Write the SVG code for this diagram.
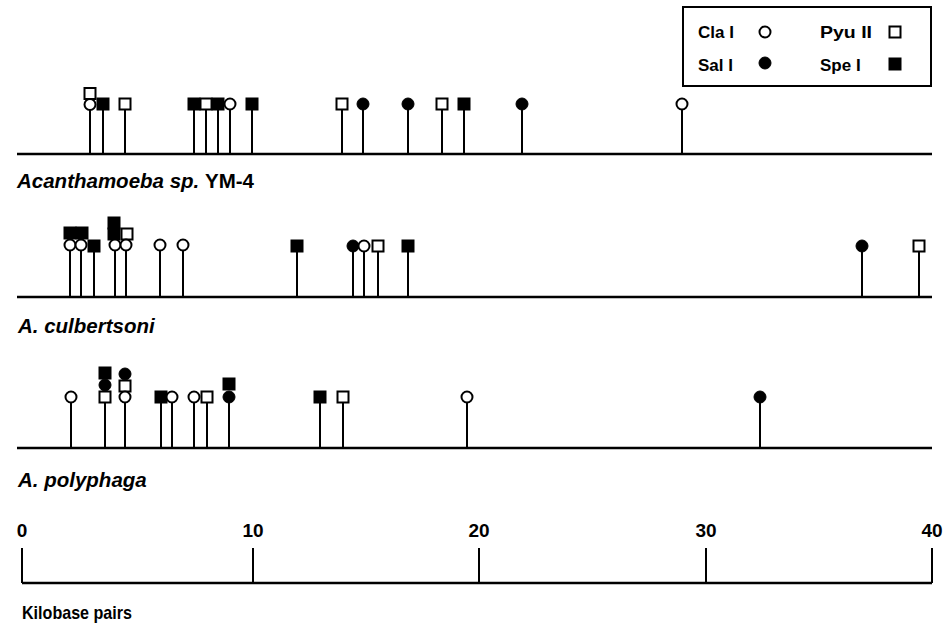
<svg xmlns="http://www.w3.org/2000/svg" width="943" height="632" viewBox="0 0 943 632">
<defs>
<style>
.bl{stroke:#000;stroke-width:2.5;fill:none}
.st{stroke:#000;stroke-width:2;fill:none}
.oc{fill:#fff;stroke:#000;stroke-width:2}
.fc{fill:#000;stroke:#000;stroke-width:1}
.os{fill:#fff;stroke:#000;stroke-width:2}
.fs{fill:#000;stroke:#000;stroke-width:1}
.lab{font-family:"Liberation Sans",Arial,sans-serif;font-weight:bold;font-style:italic;font-size:20.5px;fill:#000}
.txt{font-family:"Liberation Sans",Arial,sans-serif;font-weight:bold;font-size:17px;fill:#000}
.kb{font-family:"Liberation Sans",Arial,sans-serif;font-weight:bold;font-size:19px;fill:#000}
.num{font-family:"Liberation Sans",Arial,sans-serif;font-weight:bold;font-size:19px;fill:#000}
</style>
<circle id="oc" r="5.5" class="oc"/>
<circle id="fc" r="6" class="fc"/>
<rect id="os" x="-5.5" y="-5.5" width="11" height="11" class="os"/>
<rect id="fs" x="-6" y="-6" width="12" height="12" class="fs"/>
</defs>
<rect width="943" height="632" fill="#fff"/>

<g id="legend">
<rect x="683" y="7" width="248" height="79" fill="#fff" stroke="#000" stroke-width="2"/>
<text class="txt" x="698" y="38">Cla I</text>
<use href="#oc" x="765" y="32"/>
<text class="txt" x="820" y="38" textLength="52" lengthAdjust="spacingAndGlyphs">Pyu II</text>
<use href="#os" x="895" y="32"/>
<text class="txt" x="698" y="71">Sal I</text>
<use href="#fc" x="765" y="63"/>
<text class="txt" x="820" y="71">Spe I</text>
<use href="#fs" x="895" y="64"/>
</g>

<g id="connectors">
<!-- track 1 -->
<line class="bl" x1="17" y1="154" x2="932" y2="154"/>
<g class="st">
<line x1="90" y1="104" x2="90" y2="154"/><line x1="103" y1="104" x2="103" y2="154"/><line x1="125" y1="104" x2="125" y2="154"/>
<line x1="194" y1="104" x2="194" y2="154"/><line x1="206" y1="104" x2="206" y2="154"/><line x1="218" y1="104" x2="218" y2="154"/>
<line x1="230" y1="104" x2="230" y2="154"/><line x1="252" y1="104" x2="252" y2="154"/><line x1="342" y1="104" x2="342" y2="154"/>
<line x1="363" y1="104" x2="363" y2="154"/><line x1="408" y1="104" x2="408" y2="154"/><line x1="442" y1="104" x2="442" y2="154"/>
<line x1="464" y1="104" x2="464" y2="154"/><line x1="522" y1="104" x2="522" y2="154"/><line x1="682" y1="104" x2="682" y2="154"/>
</g>
<!-- track 2 -->
<line class="bl" x1="17" y1="297" x2="932" y2="297"/>
<g class="st">
<line x1="70" y1="245" x2="70" y2="297"/><line x1="81" y1="245" x2="81" y2="297"/><line x1="94" y1="245" x2="94" y2="297"/>
<line x1="115" y1="245" x2="115" y2="297"/><line x1="126" y1="245" x2="126" y2="297"/><line x1="160" y1="245" x2="160" y2="297"/>
<line x1="183" y1="245" x2="183" y2="297"/><line x1="297" y1="245" x2="297" y2="297"/><line x1="353" y1="245" x2="353" y2="297"/>
<line x1="364" y1="245" x2="364" y2="297"/><line x1="378" y1="245" x2="378" y2="297"/><line x1="408" y1="245" x2="408" y2="297"/>
<line x1="862" y1="245" x2="862" y2="297"/><line x1="919" y1="245" x2="919" y2="297"/>
</g>
<!-- track 3 -->
<line class="bl" x1="17" y1="448" x2="932" y2="448"/>
<g class="st">
<line x1="71" y1="397" x2="71" y2="448"/><line x1="105" y1="397" x2="105" y2="448"/><line x1="125" y1="397" x2="125" y2="448"/>
<line x1="161" y1="397" x2="161" y2="448"/><line x1="172" y1="397" x2="172" y2="448"/><line x1="194" y1="397" x2="194" y2="448"/>
<line x1="207" y1="397" x2="207" y2="448"/><line x1="229" y1="397" x2="229" y2="448"/><line x1="320" y1="397" x2="320" y2="448"/>
<line x1="343" y1="397" x2="343" y2="448"/><line x1="467" y1="397" x2="467" y2="448"/><line x1="760" y1="397" x2="760" y2="448"/>
</g>
<!-- scale -->
<g class="st">
<line x1="22" y1="583" x2="932" y2="583" stroke-width="2.5"/>
<line x1="22" y1="548" x2="22" y2="583"/><line x1="253" y1="548" x2="253" y2="583"/>
<line x1="479" y1="548" x2="479" y2="583"/><line x1="706" y1="548" x2="706" y2="583"/>
<line x1="932" y1="548" x2="932" y2="583"/>
</g>
</g>

<g id="track1">
<use href="#os" x="90" y="93.5"/>
<use href="#oc" x="90" y="104.5"/>
<use href="#fs" x="103" y="104"/>
<use href="#os" x="125" y="104"/>
<use href="#fs" x="194" y="104"/>
<use href="#fs" x="218" y="104"/>
<use href="#os" x="206" y="104"/>
<use href="#oc" x="230" y="104"/>
<use href="#fs" x="252" y="104"/>
<use href="#os" x="342" y="104"/>
<use href="#fc" x="363" y="104"/>
<use href="#fc" x="408" y="104"/>
<use href="#os" x="442" y="104"/>
<use href="#fs" x="464" y="104"/>
<use href="#fc" x="522" y="104"/>
<use href="#oc" x="682" y="104"/>
<text class="lab" x="17" y="188">Acanthamoeba sp. <tspan font-style="normal">YM-4</tspan></text>
</g>

<g id="track2">
<use href="#fs" x="70" y="233"/>
<use href="#fs" x="82" y="233"/>
<use href="#oc" x="70" y="245"/>
<use href="#oc" x="81" y="245"/>
<use href="#fs" x="94" y="246"/>
<use href="#fs" x="114" y="223"/>
<use href="#fs" x="114" y="234"/>
<use href="#os" x="127" y="234"/>
<use href="#oc" x="115" y="245"/>
<use href="#oc" x="126" y="245"/>
<use href="#oc" x="160" y="245"/>
<use href="#oc" x="183" y="245"/>
<use href="#fs" x="297" y="246"/>
<use href="#fc" x="353" y="246"/>
<use href="#oc" x="364" y="246"/>
<use href="#os" x="378" y="246"/>
<use href="#fs" x="408" y="246"/>
<use href="#fc" x="862" y="246"/>
<use href="#os" x="919" y="246"/>
<text class="lab" x="18" y="333">A. culbertsoni</text>
</g>

<g id="track3">
<use href="#oc" x="71" y="397"/>
<use href="#fs" x="105" y="373"/>
<use href="#fc" x="105" y="385"/>
<use href="#os" x="105" y="397"/>
<use href="#fc" x="125" y="374"/>
<use href="#os" x="125" y="386"/>
<use href="#oc" x="125" y="397"/>
<use href="#fs" x="161" y="397"/>
<use href="#oc" x="172" y="397"/>
<use href="#oc" x="194" y="397"/>
<use href="#os" x="207" y="397"/>
<use href="#fs" x="229" y="384"/>
<use href="#fc" x="229" y="397"/>
<use href="#fs" x="320" y="397"/>
<use href="#os" x="343" y="397"/>
<use href="#oc" x="467" y="397"/>
<use href="#fc" x="760" y="397"/>
<text class="lab" x="18" y="487">A. polyphaga</text>
</g>

<g id="scale">
<text class="num" x="22" y="537" text-anchor="middle">0</text>
<text class="num" x="253" y="537" text-anchor="middle">10</text>
<text class="num" x="479" y="537" text-anchor="middle">20</text>
<text class="num" x="706" y="537" text-anchor="middle">30</text>
<text class="num" x="932" y="537" text-anchor="middle">40</text>
<text class="kb" x="22" y="619" textLength="110" lengthAdjust="spacingAndGlyphs">Kilobase pairs</text>
</g>
</svg>
